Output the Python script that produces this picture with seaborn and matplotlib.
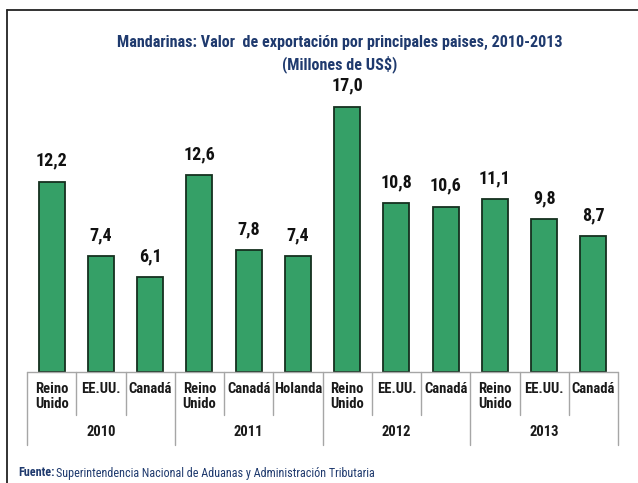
import matplotlib
matplotlib.use("Agg")
import matplotlib.pyplot as plt
import matplotlib.transforms as mtransforms
from matplotlib.lines import Line2D
import seaborn as sns
import pandas as pd

years = ["2010", "2011", "2012", "2013"]
countries = ["Reino\nUnido", "EE.UU.", "Canadá",
             "Reino\nUnido", "Canadá", "Holanda",
             "Reino\nUnido", "EE.UU.", "Canadá",
             "Reino\nUnido", "EE.UU.", "Canadá"]
year_of_bar = ["2010", "2010", "2010", "2011", "2011", "2011",
               "2012", "2012", "2012", "2013", "2013", "2013"]
values = [12.2, 7.4, 6.1, 12.6, 7.8, 7.4, 17.0, 10.8, 10.6, 11.1, 9.8, 8.7]
labels = ["12,2", "7,4", "6,1", "12,6", "7,8", "7,4",
          "17,0", "10,8", "10,6", "11,1", "9,8", "8,7"]

df = pd.DataFrame({"pos": [f"{i}" for i in range(len(values))], "valor": values})

sns.set_theme(style="white")
plt.rcParams["font.family"] = ["Roboto Condensed", "DejaVu Sans"]

fig = plt.figure(figsize=(6.38, 4.83), dpi=100)
ax = fig.add_axes([27 / 638, 111 / 483, 591 / 638, 281 / 483])

sns.barplot(data=df, x="pos", y="valor", color="#35a067", saturation=1,
            width=0.53, edgecolor="#15301f", linewidth=1.3, ax=ax)
ax.set_ylim(0, 18)
ax.set_xlim(-0.5, len(values) - 0.5)
ax.axis("off")

for i, (v, lab) in enumerate(zip(values, labels)):
    ax.text(i, v + 0.75, lab, ha="center", va="bottom", fontsize=13,
            fontweight="bold", color="#111111")

trans = mtransforms.blended_transform_factory(ax.transData, fig.transFigure)
grey = "#a6a6a6"
ax.add_line(Line2D([-0.5, len(values) - 0.5], [111 / 483, 111 / 483], transform=trans,
                   color=grey, lw=1.0, clip_on=False))
for i, c in enumerate(countries):
    ax.text(i, 101 / 483, c, transform=trans, ha="center", va="top", fontsize=10.5,
            fontweight="bold", color="#1a1a1a", linespacing=1.1)
for k in range(len(values) + 1):
    b = k - 0.5
    is_year = (k == 0 or k == len(values) or year_of_bar[k] != year_of_bar[k - 1])
    y_end = 38 / 483 if is_year else 68 / 483
    ax.add_line(Line2D([b, b], [111 / 483, y_end], transform=trans,
                       color=grey, lw=1.0, clip_on=False))
for y in years:
    idx = [i for i, yy in enumerate(year_of_bar) if yy == y]
    center = (idx[0] + idx[-1]) / 2
    ax.text(center, 51 / 483, y, transform=trans, ha="center", va="center",
            fontsize=10.5, fontweight="bold", color="#1a1a1a")

navy = "#1f3a6e"
fig.text(340 / 638, 441 / 483, "Mandarinas: Valor  de exportación por principales paises, 2010-2013",
         ha="center", va="center", fontsize=11.6, fontweight="bold", color=navy)
fig.text(340 / 638, 419 / 483, "(Millones de US$)", ha="center", va="center",
         fontsize=11.6, fontweight="bold", color=navy)

t = fig.text(18 / 638, 10 / 483, "Fuente:", ha="left", va="center", fontsize=8.7,
             fontweight="bold", color=navy)
fig.canvas.draw()
bb = t.get_window_extent()
fig.text(bb.x1 / 638 + 2 / 638, 10 / 483, "Superintendencia Nacional de Aduanas y Administración Tributaria",
         ha="left", va="center", fontsize=8.7, color=navy)

fig.add_artist(Line2D([7 / 638, 1.0], [1 - 10 / 483, 1 - 10 / 483], transform=fig.transFigure,
                      color="#222222", lw=1.3))
fig.add_artist(Line2D([7 / 638, 7 / 638], [0, 1 - 10 / 483], transform=fig.transFigure,
                      color="#222222", lw=1.3))

fig.savefig("out.png", dpi=100)
